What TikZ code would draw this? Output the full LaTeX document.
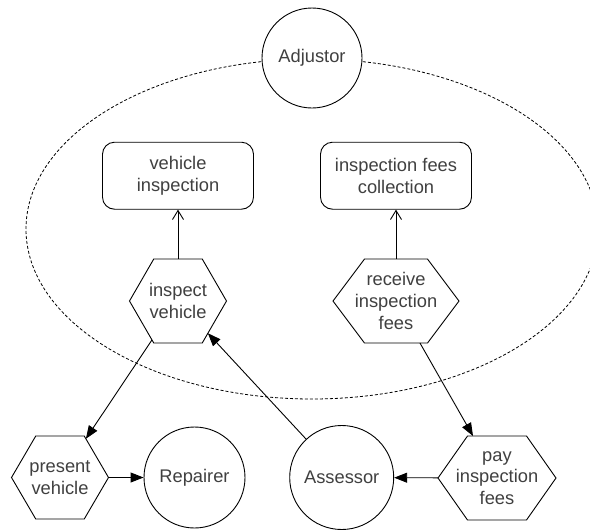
\documentclass[tikz,border=0pt]{standalone}
\usepackage{fontspec}
\setmainfont{Liberation Sans}
\usetikzlibrary{arrows.meta}
\makeatletter
\pgfkeys{/pgf/hexa slant/.initial=10pt}
\pgfdeclareshape{hexa}{%
  \savedanchor\hexcorner{%
    \pgfmathsetlength\pgf@x{\pgfshapeminwidth}%
    \pgf@x=.5\pgf@x
    \pgfmathsetlength\pgf@y{\pgfshapeminheight}%
    \pgf@y=.5\pgf@y
  }%
  \savedanchor\hexslantpt{%
    \pgfmathsetlength\pgf@x{\pgfkeysvalueof{/pgf/hexa slant}}%
    \pgf@y=0pt
  }%
  \anchor{center}{\pgfpointorigin}%
  \anchor{text}{%
    \pgf@x=-.5\wd\pgfnodeparttextbox
    \pgf@y=-.5\ht\pgfnodeparttextbox
    \advance\pgf@y by .5\dp\pgfnodeparttextbox
  }%
  \anchor{north}{\hexcorner\pgf@x=0pt}%
  \anchor{south}{\hexcorner\pgf@x=0pt\pgf@y=-\pgf@y}%
  \anchor{east}{\hexcorner\pgf@y=0pt}%
  \anchor{west}{\hexcorner\pgf@x=-\pgf@x\pgf@y=0pt}%
  \anchorborder{%
    \edef\hx@dx{\the\pgf@x}\edef\hx@dy{\the\pgf@y}%
    \pgfpointnormalised{\pgfqpoint{\hx@dx}{\hx@dy}}%
    \edef\hx@ux{\pgf@sys@tonumber\pgf@x}\edef\hx@uy{\pgf@sys@tonumber\pgf@y}%
    \hexcorner
    \edef\hx@hw{\pgf@sys@tonumber\pgf@x}\edef\hx@hh{\pgf@sys@tonumber\pgf@y}%
    \hexslantpt
    \edef\hx@s{\pgf@sys@tonumber\pgf@x}%
    \pgfmathparse{(abs(\hx@ux)*\hx@hh <= (\hx@hw-\hx@s)*abs(\hx@uy)) ? (\hx@hh/max(abs(\hx@uy),0.01)) : (\hx@hw*\hx@hh/(abs(\hx@ux)*\hx@hh+\hx@s*abs(\hx@uy)))}%
    \let\hx@t\pgfmathresult
    \pgf@x=\hx@ux pt\relax
    \pgf@x=\hx@t\pgf@x
    \pgf@y=\hx@uy pt\relax
    \pgf@y=\hx@t\pgf@y
  }%
  \backgroundpath{%
    \hexcorner
    \edef\hx@a{\the\pgf@x}\edef\hx@h{\the\pgf@y}%
    \hexslantpt
    \pgf@xa=\hx@a\relax \advance\pgf@xa by -\pgf@x
    \edef\hx@c{\the\pgf@xa}%
    \pgfpathmoveto{\pgfqpoint{\hx@a}{0pt}}%
    \pgfpathlineto{\pgfqpoint{\hx@c}{\hx@h}}%
    \pgfpathlineto{\pgfqpoint{-\hx@c}{\hx@h}}%
    \pgfpathlineto{\pgfqpoint{-\hx@a}{0pt}}%
    \pgfpathlineto{\pgfqpoint{-\hx@c}{-\hx@h}}%
    \pgfpathlineto{\pgfqpoint{\hx@c}{-\hx@h}}%
    \pgfpathclose
  }%
}
\makeatother
\begin{document}
\begin{tikzpicture}[x=1pt,y=-1pt,
  every node/.style={font=\fontsize{18.3pt}{21.6pt}\selectfont, text=black!75},
  hexbox/.style={shape=hexa, draw=black, line width=0.9pt, fill=white, align=center,
    inner sep=0pt, minimum height=84pt, minimum width=#1, /pgf/hexa slant=#1/4},
  roundbox/.style={draw=black, line width=0.9pt, fill=white, rounded corners=12pt, align=center,
    inner sep=0pt, minimum width=151pt, minimum height=67pt},
  actor/.style={circle, draw=black, line width=0.9pt, fill=white, inner sep=0pt, minimum size=#1},
  flow/.style={draw=black, line width=0.9pt, -{Triangle[length=13pt,width=10pt]}},
  realize/.style={draw=black, line width=0.9pt, -{Straight Barb[length=9pt,width=11pt]}},
  boundary/.style={draw=black, line width=0.8pt, dash pattern=on 3pt off 2pt}
  ]
\useasboundingbox (0,0) rectangle (590,531);
\clip (0,0) rectangle (590,531);
\path[boundary] (312,229) ellipse [x radius=286pt, y radius=170pt];

\node[actor=100pt] (adj) at (312,58) {Adjustor};
\node[roundbox] (vi) at (178,175.7) {vehicle\\inspection};
\node[roundbox] (ifc) at (396,175.7) {inspection fees\\collection};
\node[hexbox=97pt] (iv) at (178,301) {inspect\\vehicle};
\node[hexbox=126pt] (rif) at (396,301) {receive\\inspection\\fees};
\node[hexbox=97pt, minimum height=83pt] (pv) at (60,477.5) {present\\vehicle};
\node[actor=101pt] (rep) at (194.5,477.5) {Repairer};
\node[actor=104pt] (ass) at (341.7,477.5) {Assessor};
\node[hexbox=118pt] (pif) at (497,478) {pay\\inspection\\fees};

\draw[realize] (iv) -- (vi);
\draw[realize] (rif) -- (ifc);
\draw[flow] (iv) -- (pv);
\draw[flow] (ass) -- (iv);
\draw[flow] (rif) -- (pif);
\draw[flow] (pv) -- (rep);
\draw[flow] (pif) -- (ass);
\end{tikzpicture}
\end{document}
